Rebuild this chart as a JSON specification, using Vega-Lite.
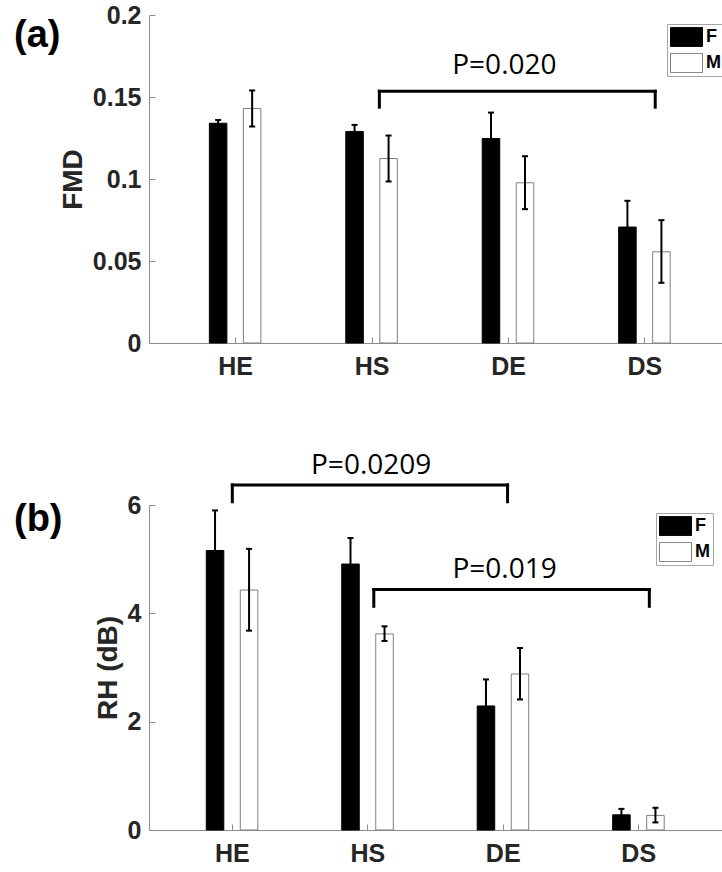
{
  "$schema": "https://vega.github.io/schema/vega-lite/v6.json",
  "background": "white",
  "padding": {"left": 14, "top": 3, "right": 0, "bottom": 0},
  "bounds": "flush",
  "spacing": 162,
  "resolve": {"scale": {"fill": "independent", "stroke": "independent"}, "legend": {"fill": "independent", "stroke": "independent"}},
  "datasets": {
    "fmd": [
      {"group": "HE", "sex": "F", "mean": 0.134, "lo": 0.132, "hi": 0.136},
      {"group": "HE", "sex": "M", "mean": 0.143, "lo": 0.132, "hi": 0.154},
      {"group": "HS", "sex": "F", "mean": 0.129, "lo": 0.125, "hi": 0.133},
      {"group": "HS", "sex": "M", "mean": 0.1125, "lo": 0.0985, "hi": 0.1265},
      {"group": "DE", "sex": "F", "mean": 0.1247, "lo": 0.109, "hi": 0.1405},
      {"group": "DE", "sex": "M", "mean": 0.0977, "lo": 0.0816, "hi": 0.1139},
      {"group": "DS", "sex": "F", "mean": 0.0707, "lo": 0.0547, "hi": 0.0867},
      {"group": "DS", "sex": "M", "mean": 0.0556, "lo": 0.0367, "hi": 0.0749}
    ],
    "rh": [
      {"group": "HE", "sex": "F", "mean": 5.16, "lo": 4.42, "hi": 5.9},
      {"group": "HE", "sex": "M", "mean": 4.43, "lo": 3.68, "hi": 5.19},
      {"group": "HS", "sex": "F", "mean": 4.91, "lo": 4.43, "hi": 5.39},
      {"group": "HS", "sex": "M", "mean": 3.62, "lo": 3.49, "hi": 3.76},
      {"group": "DE", "sex": "F", "mean": 2.29, "lo": 1.8, "hi": 2.78},
      {"group": "DE", "sex": "M", "mean": 2.88, "lo": 2.41, "hi": 3.36},
      {"group": "DS", "sex": "F", "mean": 0.28, "lo": 0.18, "hi": 0.39},
      {"group": "DS", "sex": "M", "mean": 0.27, "lo": 0.14, "hi": 0.41}
    ],
    "fmdP": [
      {"id": 1, "from": "HS", "to": "DS", "top": 0.1535, "bottom": 0.1438, "label": "P=0.020", "at": "DE", "ty": 0.1639}
    ],
    "rhP": [
      {"id": 1, "from": "HE", "to": "DE", "top": 6.37, "bottom": 6.06, "label": "P=0.0209", "at": "HS", "ty": 6.58},
      {"id": 2, "from": "HS", "to": "DS", "top": 4.44, "bottom": 4.13, "label": "P=0.019", "at": "DE", "ty": 4.66}
    ]
  },
  "config": {
    "view": {"stroke": null},
    "axis": {
      "grid": false,
      "domainColor": "#8c8c8c",
      "tickColor": "#8c8c8c",
      "tickSize": -6,
      "labelFont": "Liberation Sans",
      "labelFontWeight": "bold",
      "labelFontSize": 25,
      "labelColor": "#262626",
      "titleFont": "Liberation Sans",
      "titleFontWeight": "bold",
      "titleFontSize": 28,
      "titleColor": "#262626"
    },
    "axisX": {"labelAngle": 0, "labelPadding": 17},
    "axisY": {"labelPadding": 14, "titlePadding": 5},
    "legend": {
      "orient": "none",
      "symbolType": "M-1,-0.6H1V0.6H-1Z",
      "symbolSize": 1024,
      "clipHeight": 20,
      "rowPadding": 6,
      "labelFont": "Liberation Sans",
      "labelFontWeight": "bold",
      "labelFontSize": 18,
      "labelColor": "black",
      "labelOffset": 3,
      "padding": 3,
      "strokeColor": "#a6a6a6",
      "fillColor": "white",
      "symbolStrokeWidth": 1,
      "symbolOpacity": 1
    },
    "text": {"font": "Open Sans", "fontSize": 28, "color": "black"}
  },
  "vconcat": [
    {
      "width": 573,
      "height": 328,
      "title": {"text": "(a)", "orient": "top", "anchor": "start", "frame": "group", "font": "Liberation Sans", "fontSize": 38, "fontWeight": "bold", "color": "black", "dx": -135, "dy": 52, "offset": 0},
      "layer": [
        {
          "data": {"name": "fmd"},
          "mark": {"type": "bar", "strokeWidth": 1},
          "encoding": {
            "x": {"field": "group", "type": "nominal", "scale": {"domain": ["HE", "HS", "DE", "DS"], "paddingInner": 0.5, "paddingOuter": 0.35, "align": 0.55}, "axis": {"title": null}},
            "xOffset": {"field": "sex", "type": "nominal", "scale": {"domain": ["F", "M"], "paddingInner": 0.485, "paddingOuter": 0.245, "align": 0.47}},
            "y": {"field": "mean", "type": "quantitative", "scale": {"domain": [0, 0.2]}, "axis": {"title": "FMD", "values": [0, 0.05, 0.1, 0.15, 0.2], "format": "~g"}},
            "fill": {"field": "sex", "type": "nominal", "scale": {"domain": ["F", "M"], "range": ["black", "white"]}, "legend": {"title": null, "legendX": 518, "legendY": 9}},
            "stroke": {"field": "sex", "type": "nominal", "scale": {"domain": ["F", "M"], "range": ["black", "#7f7f7f"]}, "legend": {"title": null, "legendX": 518, "legendY": 9}}
          }
        },
        {
          "data": {"name": "fmd"},
          "mark": {"type": "rule", "color": "black", "strokeWidth": 2},
          "encoding": {
            "x": {"field": "group", "type": "nominal"},
            "xOffset": {"field": "sex", "type": "nominal"},
            "y": {"field": "lo", "type": "quantitative"},
            "y2": {"field": "hi"}
          }
        },
        {
          "data": {"name": "fmd"},
          "mark": {"type": "tick", "color": "black", "size": 6, "thickness": 2, "opacity": 1},
          "encoding": {
            "x": {"field": "group", "type": "nominal"},
            "xOffset": {"field": "sex", "type": "nominal"},
            "y": {"field": "hi", "type": "quantitative"}
          }
        },
        {
          "data": {"name": "fmd"},
          "mark": {"type": "tick", "color": "black", "size": 6, "thickness": 2, "opacity": 1},
          "encoding": {
            "x": {"field": "group", "type": "nominal"},
            "xOffset": {"field": "sex", "type": "nominal"},
            "y": {"field": "lo", "type": "quantitative"}
          }
        },
        {
          "data": {"name": "fmdP"},
          "mark": {"type": "rule", "color": "black", "strokeWidth": 3, "strokeCap": "square"},
          "encoding": {
            "x": {"field": "from", "type": "nominal", "bandPosition": 0.607},
            "x2": {"field": "to", "bandPosition": 0.651},
            "y": {"field": "top", "type": "quantitative"}
          }
        },
        {
          "data": {"name": "fmdP"},
          "mark": {"type": "rule", "color": "black", "strokeWidth": 3, "strokeCap": "square"},
          "encoding": {
            "x": {"field": "from", "type": "nominal", "bandPosition": 0.607},
            "y": {"field": "top", "type": "quantitative"},
            "y2": {"field": "bottom"}
          }
        },
        {
          "data": {"name": "fmdP"},
          "mark": {"type": "rule", "color": "black", "strokeWidth": 3, "strokeCap": "square"},
          "encoding": {
            "x": {"field": "to", "type": "nominal", "bandPosition": 0.651},
            "y": {"field": "top", "type": "quantitative"},
            "y2": {"field": "bottom"}
          }
        },
        {
          "data": {"name": "fmdP"},
          "mark": {"type": "text", "align": "center", "baseline": "alphabetic"},
          "encoding": {
            "x": {"field": "at", "type": "nominal", "bandPosition": 0.44},
            "y": {"field": "ty", "type": "quantitative"},
            "text": {"field": "label"}
          }
        }
      ]
    },
    {
      "width": 573,
      "height": 325,
      "title": {"text": "(b)", "orient": "top", "anchor": "start", "frame": "group", "font": "Liberation Sans", "fontSize": 38, "fontWeight": "bold", "color": "black", "dx": -135, "dy": 87, "offset": 0},
      "layer": [
        {
          "data": {"name": "rh"},
          "mark": {"type": "bar", "strokeWidth": 1},
          "encoding": {
            "x": {"field": "group", "type": "nominal", "scale": {"domain": ["HE", "HS", "DE", "DS"], "paddingInner": 0.5, "paddingOuter": 0.365, "align": 0.5}, "axis": {"title": null}},
            "xOffset": {"field": "sex", "type": "nominal", "scale": {"domain": ["F", "M"], "paddingInner": 0.495, "paddingOuter": 0.264, "align": 0.53}},
            "y": {"field": "mean", "type": "quantitative", "scale": {"domain": [0, 6]}, "axis": {"title": "RH (dB)", "values": [0, 2, 4, 6], "format": "~g"}},
            "fill": {"field": "sex", "type": "nominal", "scale": {"domain": ["F", "M"], "range": ["black", "white"]}, "legend": {"title": null, "legendX": 507, "legendY": 8}},
            "stroke": {"field": "sex", "type": "nominal", "scale": {"domain": ["F", "M"], "range": ["black", "#7f7f7f"]}, "legend": {"title": null, "legendX": 507, "legendY": 8}}
          }
        },
        {
          "data": {"name": "rh"},
          "mark": {"type": "rule", "color": "black", "strokeWidth": 2},
          "encoding": {
            "x": {"field": "group", "type": "nominal"},
            "xOffset": {"field": "sex", "type": "nominal"},
            "y": {"field": "lo", "type": "quantitative"},
            "y2": {"field": "hi"}
          }
        },
        {
          "data": {"name": "rh"},
          "mark": {"type": "tick", "color": "black", "size": 6, "thickness": 2, "opacity": 1},
          "encoding": {
            "x": {"field": "group", "type": "nominal"},
            "xOffset": {"field": "sex", "type": "nominal"},
            "y": {"field": "hi", "type": "quantitative"}
          }
        },
        {
          "data": {"name": "rh"},
          "mark": {"type": "tick", "color": "black", "size": 6, "thickness": 2, "opacity": 1},
          "encoding": {
            "x": {"field": "group", "type": "nominal"},
            "xOffset": {"field": "sex", "type": "nominal"},
            "y": {"field": "lo", "type": "quantitative"}
          }
        },
        {
          "data": {"name": "rhP"},
          "transform": [{"filter": "datum.id == 1"}],
          "mark": {"type": "rule", "color": "black", "strokeWidth": 3, "strokeCap": "square"},
          "encoding": {
            "x": {"field": "from", "type": "nominal", "bandPosition": 0.5},
            "x2": {"field": "to", "bandPosition": 0.564},
            "y": {"field": "top", "type": "quantitative"}
          }
        },
        {
          "data": {"name": "rhP"},
          "transform": [{"filter": "datum.id == 1"}],
          "mark": {"type": "rule", "color": "black", "strokeWidth": 3, "strokeCap": "square"},
          "encoding": {
            "x": {"field": "from", "type": "nominal", "bandPosition": 0.5},
            "y": {"field": "top", "type": "quantitative"},
            "y2": {"field": "bottom"}
          }
        },
        {
          "data": {"name": "rhP"},
          "transform": [{"filter": "datum.id == 1"}],
          "mark": {"type": "rule", "color": "black", "strokeWidth": 3, "strokeCap": "square"},
          "encoding": {
            "x": {"field": "to", "type": "nominal", "bandPosition": 0.564},
            "y": {"field": "top", "type": "quantitative"},
            "y2": {"field": "bottom"}
          }
        },
        {
          "data": {"name": "rhP"},
          "transform": [{"filter": "datum.id == 2"}],
          "mark": {"type": "rule", "color": "black", "strokeWidth": 3, "strokeCap": "square"},
          "encoding": {
            "x": {"field": "from", "type": "nominal", "bandPosition": 0.589},
            "x2": {"field": "to", "bandPosition": 0.657},
            "y": {"field": "top", "type": "quantitative"}
          }
        },
        {
          "data": {"name": "rhP"},
          "transform": [{"filter": "datum.id == 2"}],
          "mark": {"type": "rule", "color": "black", "strokeWidth": 3, "strokeCap": "square"},
          "encoding": {
            "x": {"field": "from", "type": "nominal", "bandPosition": 0.589},
            "y": {"field": "top", "type": "quantitative"},
            "y2": {"field": "bottom"}
          }
        },
        {
          "data": {"name": "rhP"},
          "transform": [{"filter": "datum.id == 2"}],
          "mark": {"type": "rule", "color": "black", "strokeWidth": 3, "strokeCap": "square"},
          "encoding": {
            "x": {"field": "to", "type": "nominal", "bandPosition": 0.657},
            "y": {"field": "top", "type": "quantitative"},
            "y2": {"field": "bottom"}
          }
        },
        {
          "data": {"name": "rhP"},
          "transform": [{"filter": "datum.id == 1"}],
          "mark": {"type": "text", "align": "center", "baseline": "alphabetic"},
          "encoding": {
            "x": {"field": "at", "type": "nominal", "bandPosition": 0.55},
            "y": {"field": "ty", "type": "quantitative"},
            "text": {"field": "label"}
          }
        },
        {
          "data": {"name": "rhP"},
          "transform": [{"filter": "datum.id == 2"}],
          "mark": {"type": "text", "align": "center", "baseline": "alphabetic"},
          "encoding": {
            "x": {"field": "at", "type": "nominal", "bandPosition": 0.52},
            "y": {"field": "ty", "type": "quantitative"},
            "text": {"field": "label"}
          }
        }
      ]
    }
  ]
}
